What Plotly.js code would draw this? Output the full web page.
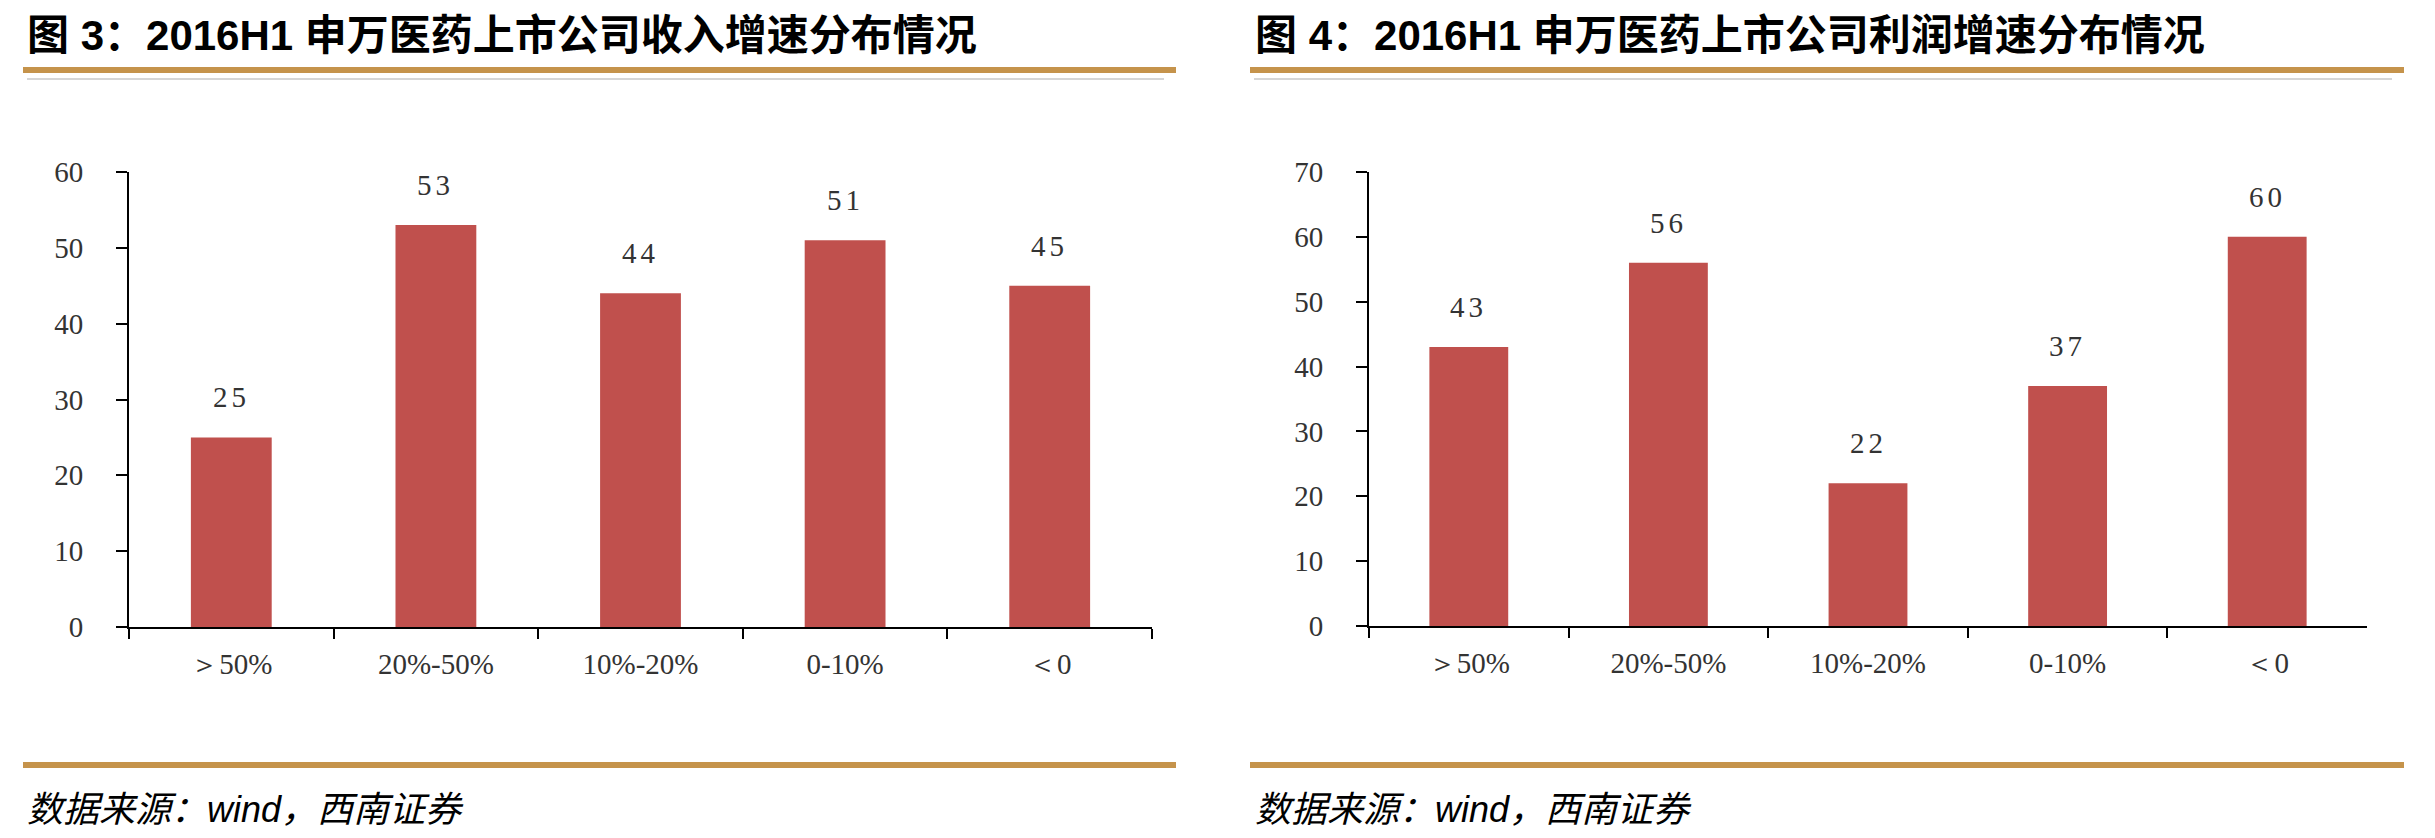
<!DOCTYPE html>
<html>
<head>
<meta charset="utf-8">
<script src="https://cdn.plot.ly/plotly-3.0.1.min.js"></script>
<style>
html,body{margin:0;padding:0;background:#fff;}
#chart{width:2435px;height:838px;}
</style>
</head>
<body>
<div id="chart"></div>
<script>
// ---- data ----
const categories = ["＞50%", "20%-50%", "10%-20%", "0-10%", "＜0"];
const revenueCounts = [25, 53, 44, 51, 45];
const profitCounts = [43, 56, 22, 37, 60];
const titleLeft = "图 3：2016H1 申万医药上市公司收入增速分布情况";
const titleRight = "图 4：2016H1 申万医药上市公司利润增速分布情况";
const sourceText = "数据来源：wind，西南证券";

// ---- style ----
const W = 2435, H = 838;
const barColor = "#C0504D";
const gold = "#C5934B";
const serif = "Liberation Serif, Times New Roman, serif";
const titleFont = "Liberation Sans, Noto Sans CJK SC, sans-serif";
const px = v => v / W;
const py = v => 1 - v / H;

const traces = [
  {type: "bar", x: categories, y: revenueCounts, xaxis: "x", yaxis: "y",
   marker: {color: barColor}, hoverinfo: "x+y", showlegend: false},
  {type: "bar", x: categories, y: profitCounts, xaxis: "x2", yaxis: "y2",
   marker: {color: barColor}, hoverinfo: "x+y", showlegend: false}
];

function xAxis(domain) {
  return {
    domain: domain, type: "category", range: [-0.5, 4.5],
    showline: true, linecolor: "#000", linewidth: 2,
    ticks: "outside", tickson: "boundaries", ticklen: 10, tickwidth: 2, tickcolor: "#000",
    tickfont: {family: serif, size: 29, color: "#333"},
    ticklabelstandoff: 10,
    showgrid: false, zeroline: false, fixedrange: true
  };
}
function yAxis(domain, maxV, anchor) {
  return {
    domain: domain, range: [0, maxV], dtick: 10, anchor: anchor,
    showline: true, linecolor: "#000", linewidth: 2,
    ticks: "outside", ticklen: 11, tickwidth: 2, tickcolor: "#000",
    tickfont: {family: serif, size: 29, color: "#333"},
    ticklabelstandoff: 27,
    showgrid: false, zeroline: false, fixedrange: true
  };
}

const annotations = [];
function addLabels(values, xref, yref) {
  values.forEach((v, i) => {
    annotations.push({
      x: categories[i], y: v, xref: xref, yref: yref,
      text: String(v), showarrow: false, yanchor: "middle", yshift: 40,
      font: {family: serif, size: 29, color: "#333"}
    });
  });
}
addLabels(revenueCounts, "x", "y");
addLabels(profitCounts, "x2", "y2");

[[titleLeft, 25], [titleRight, 1253]].forEach(([t, x0]) => {
  annotations.push({
    text: "<b>" + t + "</b>", xref: "paper", yref: "paper",
    x: px(x0), y: py(35), xanchor: "left", yanchor: "middle", showarrow: false,
    font: {family: titleFont, size: 42, color: "#000"}
  });
});
[25, 1253].forEach(x0 => {
  annotations.push({
    text: "<i>" + sourceText + "</i>", xref: "paper", yref: "paper",
    x: px(x0), y: py(809), xanchor: "left", yanchor: "middle", showarrow: false,
    font: {family: titleFont, size: 36, color: "#000"}
  });
});

const shapes = [];
[[23, 1176], [1250, 2404]].forEach(([a, b]) => {
  shapes.push({type: "line", xref: "paper", yref: "paper", x0: px(a), x1: px(b), y0: py(70), y1: py(70),
               line: {color: gold, width: 6}});
  shapes.push({type: "line", xref: "paper", yref: "paper", x0: px(a + 4), x1: px(b - 12), y0: py(79), y1: py(79),
               line: {color: "#d6d6d6", width: 2}});
  shapes.push({type: "line", xref: "paper", yref: "paper", x0: px(a), x1: px(b), y0: py(765), y1: py(765),
               line: {color: gold, width: 6}});
});

const layout = {
  width: W, height: H,
  margin: {l: 0, r: 0, t: 0, b: 0},
  paper_bgcolor: "#fff", plot_bgcolor: "#fff",
  bargap: 0.605,
  xaxis: xAxis([px(129), px(1152)]),
  yaxis: yAxis([py(627), py(172)], 60, "x"),
  xaxis2: Object.assign(xAxis([px(1369), px(2367)]), {anchor: "y2"}),
  yaxis2: yAxis([py(626), py(172)], 70, "x2"),
  annotations: annotations,
  shapes: shapes,
  showlegend: false
};
layout.xaxis.anchor = "y";

Plotly.newPlot("chart", traces, layout, {displayModeBar: false, staticPlot: true}).then(gd => {
  // widen the spacing of the value labels, as in the original
  gd.querySelectorAll("g.annotation").forEach(g => {
    const idx = +g.getAttribute("data-index");
    if (idx < revenueCounts.length + profitCounts.length) {
      const t = g.querySelector("text");
      if (t) t.style.letterSpacing = "4px";
    }
  });
});
</script>
</body>
</html>
